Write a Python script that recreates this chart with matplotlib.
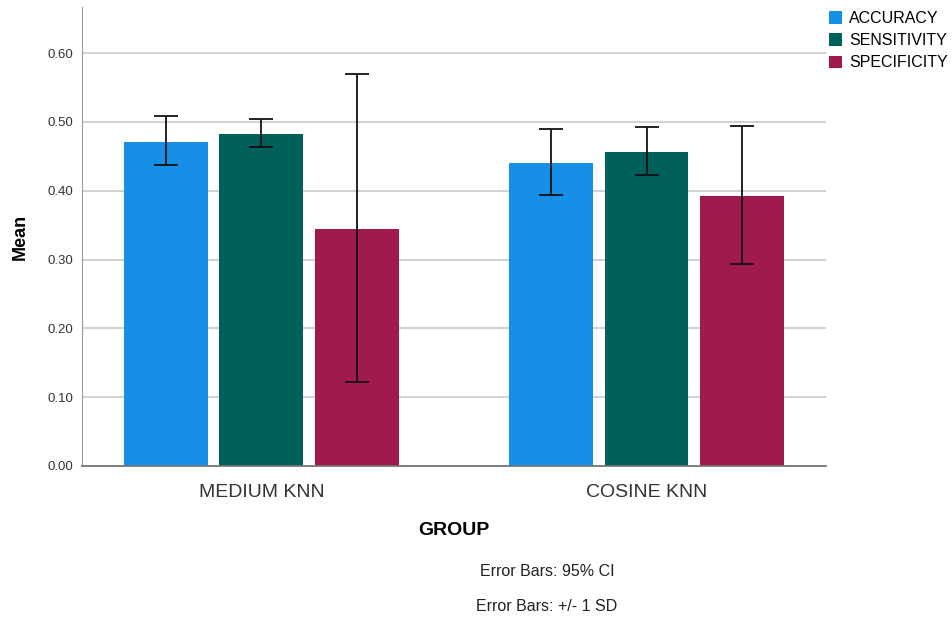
import numpy as np
import matplotlib.pyplot as plt

plt.rcParams['font.family'] = ['Liberation Sans', 'DejaVu Sans']

groups = ['MEDIUM KNN', 'COSINE KNN']
measures = ['ACCURACY', 'SENSITIVITY', 'SPECIFICITY']
colors = ['#1590e6', '#00605a', '#a01a4e']

means = {
    'ACCURACY': [0.471, 0.441],
    'SENSITIVITY': [0.483, 0.456],
    'SPECIFICITY': [0.344, 0.392],
}
err_low = {
    'ACCURACY': [0.437, 0.394],
    'SENSITIVITY': [0.463, 0.423],
    'SPECIFICITY': [0.122, 0.293],
}
err_high = {
    'ACCURACY': [0.509, 0.489],
    'SENSITIVITY': [0.504, 0.492],
    'SPECIFICITY': [0.570, 0.494],
}

fig = plt.figure(figsize=(9.53, 6.19), dpi=100)
ax = fig.add_axes([0.086, 0.2472, 0.7807, 0.7415])

x = np.arange(len(groups))
width = 0.218
step = 0.247
for i, m in enumerate(measures):
    pos = x + (i - 1) * step
    vals = np.array(means[m])
    lo = vals - np.array(err_low[m])
    hi = np.array(err_high[m]) - vals
    ax.bar(pos, vals, width, color=colors[i], label=m, zorder=2)
    ax.errorbar(pos, vals, yerr=[lo, hi], fmt='none', ecolor='#111111',
                elinewidth=1.3, capsize=8.5, capthick=1.3, zorder=3)

ax.set_xlim(-0.466, 1.466)
ax.set_ylim(0, 0.667)
ticks = np.arange(0, 0.61, 0.1)
ax.set_yticks(ticks)
ax.set_yticklabels(['%.2f' % t for t in ticks], fontsize=9.5, color='#333333')
ax.set_xticks(x)
ax.set_xticklabels(groups, fontsize=14, color='#333333')
ax.tick_params(axis='both', length=0)
ax.tick_params(axis='y', pad=6)
ax.tick_params(axis='x', pad=13)
ax.grid(axis='y', color='#c8c8c8', linewidth=1.2, zorder=0)
ax.set_axisbelow(True)

for s in ['top', 'right']:
    ax.spines[s].set_visible(False)
ax.spines['left'].set_color('#999999')
ax.spines['bottom'].set_color('#777777')
ax.spines['bottom'].set_linewidth(1.3)

ax.set_ylabel('Mean', fontsize=13, fontweight='bold', labelpad=14)
ax.set_xlabel('GROUP', fontsize=14, fontweight='bold', labelpad=15)

ax.legend(loc='upper left', bbox_to_anchor=(0.995, 1.005), frameon=False,
          fontsize=11.5, handlelength=0.85, handleheight=0.85, handletextpad=0.45,
          labelspacing=0.45, borderaxespad=0)

fig.text(0.574, 0.069, 'Error Bars: 95% CI', ha='center', fontsize=11.5, color='#222222')
fig.text(0.574, 0.013, 'Error Bars: +/- 1 SD', ha='center', fontsize=11.5, color='#222222')

fig.savefig('out.png', dpi=100)
